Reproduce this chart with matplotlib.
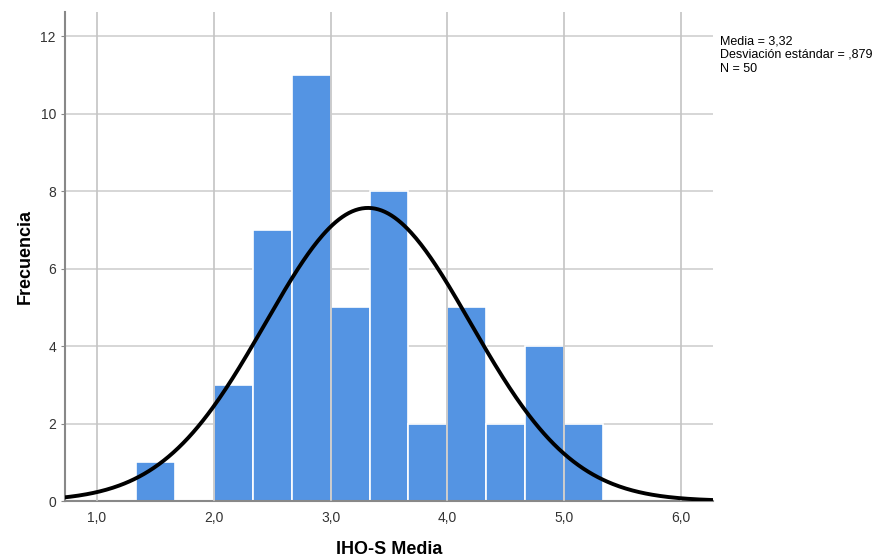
import numpy as np
import matplotlib
matplotlib.use('Agg')
import matplotlib.pyplot as plt

plt.rcParams['font.family'] = ['Liberation Sans', 'DejaVu Sans']

# Histogram bins (width 1/3) and counts
bin_edges = [4/3, 5/3, 2.0, 7/3, 8/3, 3.0, 10/3, 11/3, 4.0, 13/3, 14/3, 5.0, 16/3]
counts = [1, 0, 3, 7, 11, 5, 8, 2, 5, 2, 4, 2]
media = 3.32
desv = 0.879
n = 50

x_ticks = [1.0, 2.0, 3.0, 4.0, 5.0, 6.0]
x_labels = ['1,0', '2,0', '3,0', '4,0', '5,0', '6,0']
y_ticks = [0, 2, 4, 6, 8, 10, 12]

fig = plt.figure(figsize=(8.75, 5.58), dpi=100)
ax = fig.add_axes([0.0743, 0.102, 0.7406, 0.8765])

widths = np.diff(bin_edges)
ax.bar(bin_edges[:-1], counts, width=widths, align='edge',
       color='#5494e3', edgecolor='white', linewidth=1.2, zorder=2)

# Normal curve scaled to the histogram
xs = np.linspace(0.7, 6.3, 400)
bw = widths[0]
ys = n * bw / (desv * np.sqrt(2 * np.pi)) * np.exp(-0.5 * ((xs - media) / desv) ** 2)
ax.plot(xs, ys, color='black', lw=2.8, zorder=4)

ax.set_xlim(0.726, 6.274)
ax.set_ylim(0, 12.62)
ax.set_xticks(x_ticks)
ax.set_xticklabels(x_labels)
ax.set_yticks(y_ticks)

for y in y_ticks[1:]:
    ax.axhline(y, color='#d0d0d0', lw=1.2, zorder=1)
for x in x_ticks:
    ax.axvline(x, color='#c4c4c4', lw=1.2, zorder=3)

for s in ['top', 'right']:
    ax.spines[s].set_visible(False)
ax.spines['left'].set_color('#888888')
ax.spines['bottom'].set_color('#888888')
ax.spines['left'].set_linewidth(1.5)
ax.spines['bottom'].set_linewidth(1.5)
ax.tick_params(axis='both', length=3, color='#888888', labelsize=10, labelcolor='#333333')
ax.tick_params(axis='x', length=0, pad=7)

ax.set_xlabel('IHO-S Media', fontsize=13, fontweight='bold', labelpad=12)
ax.set_ylabel('Frecuencia', fontsize=13, fontweight='bold', labelpad=5)

fig.text(0.823, 0.937, 'Media = 3,32\nDesviación estándar = ,879\nN = 50',
         fontsize=9, va='top', ha='left', linespacing=1.2)

fig.savefig('out.png', dpi=100)
